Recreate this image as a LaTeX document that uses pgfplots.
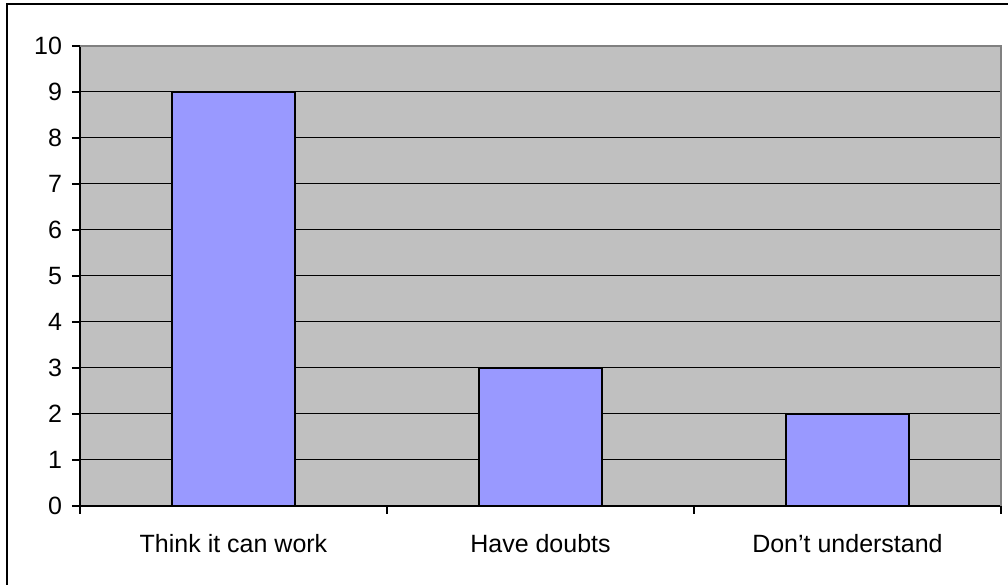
\documentclass[border=0pt]{standalone}
\usepackage{pgfplots}
\pgfplotsset{compat=1.18}
\usepackage{fontspec}
\setmainfont{Liberation Sans}
\definecolor{plotgray}{HTML}{C0C0C0}
\definecolor{barblue}{HTML}{9999FF}
\definecolor{framegray}{HTML}{808080}
\begin{document}
\begin{tikzpicture}
\useasboundingbox (0pt,0pt) rectangle (756pt,438.75pt);
% chart frame (left and top edges)
\draw[line width=1.6pt] (5.25pt,0pt) -- (5.25pt,435.75pt) -- (756pt,435.75pt);
\begin{axis}[
  at={(60pt,59.25pt)}, anchor=south west,
  scale only axis,
  width=690.75pt, height=345pt,
  xmin=-0.5, xmax=2.5,
  ymin=0, ymax=10,
  axis x line=bottom, axis y line=left,
  axis line style={-, black, line width=1.1pt},
  axis background/.style={fill=plotgray},
  xtick={0,1,2},
  xticklabels={Think it can work, Have doubts, Don’t understand},
  minor xtick={-0.5,0.5,1.5,2.5},
  major x tick style={draw=none},
  minor x tick style={black, line width=0.8pt},
  ytick={0,1,...,10},
  y tick style={black, line width=0.8pt},
  tick align=outside,
  major tick length=6pt,
  minor tick length=6pt,
  ymajorgrids,
  grid style={black, line width=0.75pt},
  tick label style={font=\fontsize{18.75}{22}\selectfont},
  /pgf/number format/assume math mode=true,
  xticklabel style={yshift=-12pt},
  yticklabel style={xshift=-4pt},
  clip=false,
]
\addplot[ybar, bar width=92.25pt, fill=barblue, draw=black, line width=1.1pt]
  coordinates {(0,9) (1,3) (2,2)};
\draw[framegray, line width=1.5pt] (rel axis cs:0,1) -- (rel axis cs:1,1) -- (rel axis cs:1,0);
\end{axis}
\end{tikzpicture}
\end{document}
